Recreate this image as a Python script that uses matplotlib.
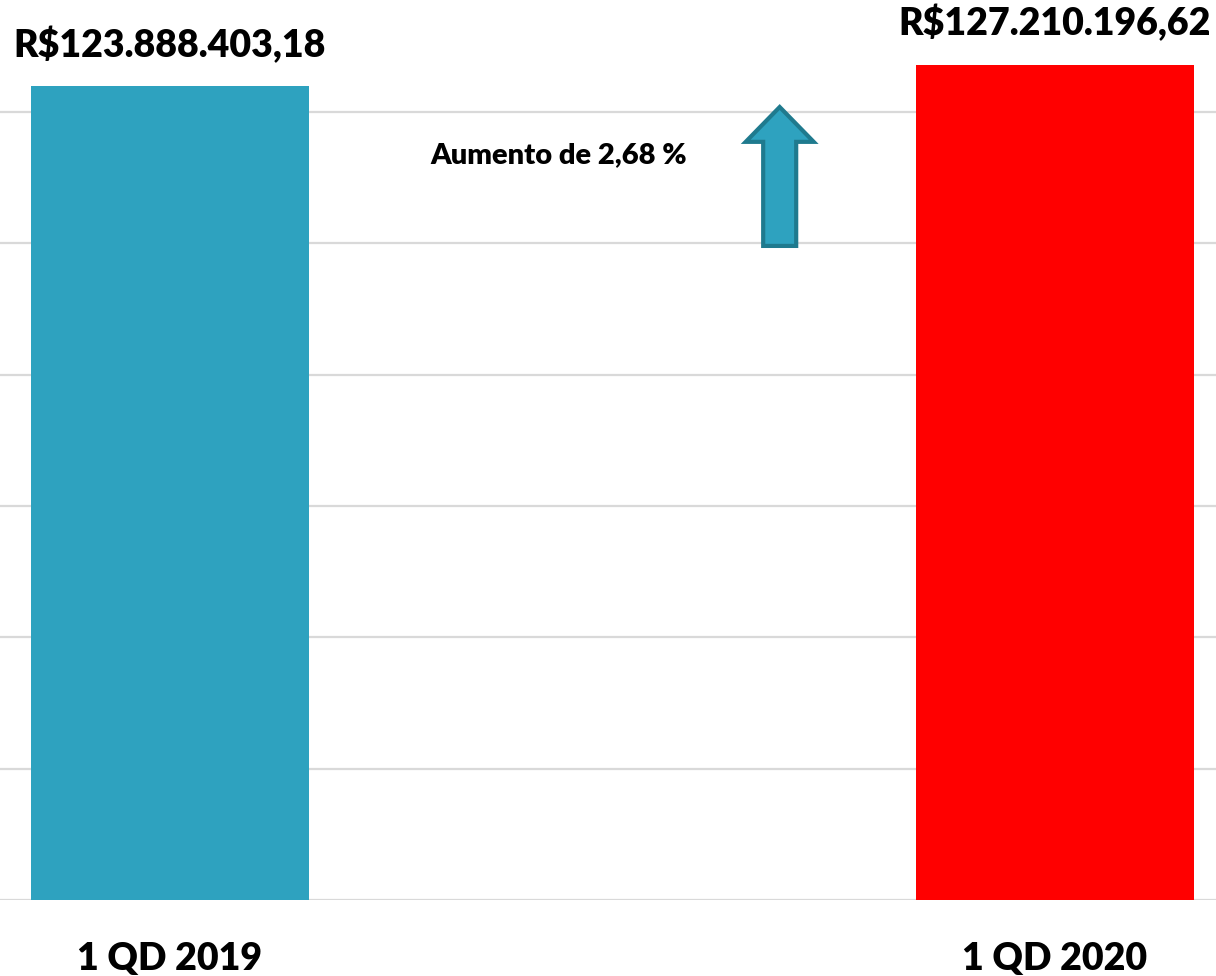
import matplotlib
matplotlib.use("Agg")
import matplotlib.pyplot as plt
from matplotlib.patches import FancyArrow

plt.rcParams['font.family'] = ['Lato', 'DejaVu Sans']

categories = ["1 QD 2019", "1 QD 2020"]
values = [123888403.18, 127210196.62]
value_labels = ["R$123.888.403,18", "R$127.210.196,62"]
colors = ["#2ea2bf", "#ff0000"]
grid_ticks = [0, 20e6, 40e6, 60e6, 80e6, 100e6, 120e6]
note = "Aumento de 2,68 %"

fig = plt.figure(figsize=(12.16, 9.76), dpi=100)
ax = fig.add_axes([0, 76/976, 1, 900/976])

x = list(range(len(categories)))
bars = ax.bar(x, values, width=0.314, color=colors, zorder=3)

ax.set_xlim(-0.192, 1.182)
ax.set_ylim(0, 137.05e6)
ax.set_yticks(grid_ticks)
ax.yaxis.grid(True, color="#d9d9d9", linewidth=1.6, zorder=0)
ax.tick_params(axis='y', left=False, labelleft=False)
ax.tick_params(axis='x', bottom=False, pad=27)
ax.set_xticks(x)
ax.set_xticklabels(categories, fontsize=27, fontweight='heavy', color='black')
for s in ax.spines.values():
    s.set_visible(False)

for xi, v, lab in zip(x, values, value_labels):
    ax.annotate(lab, (xi, v), xytext=(0, 17), textcoords='offset points',
                ha='center', va='bottom', fontsize=27, fontweight='heavy', color='black')

ax.text(0.294, 112.2e6, note, fontsize=21, fontweight='heavy', color='black',
        ha='left', va='baseline', zorder=5)

arrow = FancyArrow(0.689, 99.6e6, 0, 21.15e6, width=0.0373, head_width=0.0768,
                   head_length=5.3e6, length_includes_head=True,
                   facecolor="#2ea2bf", edgecolor="#1f7a8e", linewidth=3, zorder=5)
ax.add_patch(arrow)

fig.savefig("out.png", dpi=100)
